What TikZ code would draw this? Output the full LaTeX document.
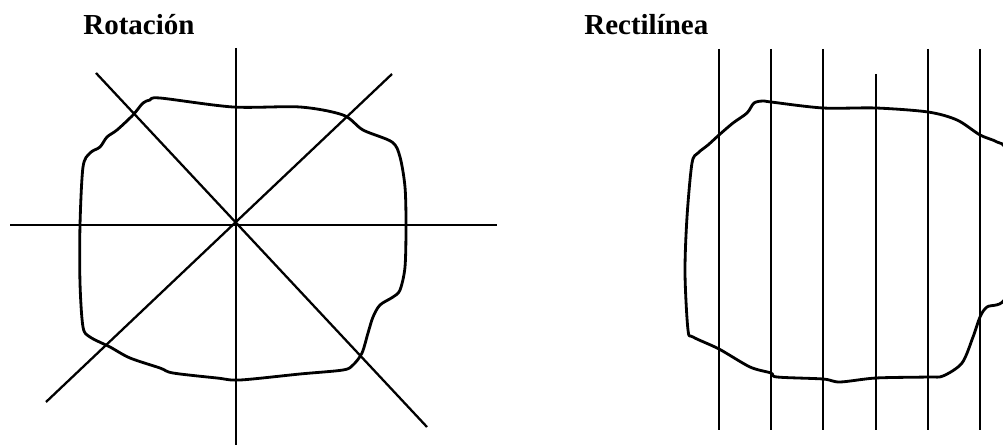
\documentclass[tikz,border=0pt]{standalone}
\usepackage{fontspec}
\setmainfont{Liberation Serif}
\usetikzlibrary{positioning}
\tikzset{
    title/.style={font=\fontsize{16.5}{18}\selectfont\bfseries, anchor=base west, inner sep=0pt},
    ray/.style={line width=1.3pt, line cap=butt},
    outline/.style={line width=1.6pt, line join=round}
}

\begin{document}
\begin{tikzpicture}[x=0.02cm, y=-0.02cm]
\useasboundingbox (0,0) rectangle (1003,445);
\begin{scope}
\clip (0,0) rectangle (1003,445);

% left panel
\node[title] (rot) at (83,35) {Rotación};
\draw[ray] (236,48) -- (236,445);
\draw[ray] (10,225) -- (497,225);
\draw[ray] (96,73) -- (427,427);
\draw[ray] (392,74) -- (46,402);
\draw[outline] plot[smooth cycle, tension=0.5] coordinates {
    (150,100) (160,98) (233,107) (300,107) (343,115) (363,130) (392,142)
    (400,157) (405,187) (406,225) (405,267) (400,290) (393,297) (380,305)
    (373,317) (368,333) (362,353) (353,365) (343,370) (300,374) (240,380)
    (217,378) (173,373) (160,368) (130,358) (110,347) (90,337) (83,327)
    (80,283) (80,225) (83,167) (90,153) (100,147) (107,137) (117,130)
    (133,115) (143,103)};

% right panel
\node[title] (rect) at (584,35) {Rectilínea};
\foreach \x in {719,771,823,928,980}
    \draw[ray] (\x,49) -- (\x,430);
\draw[ray] (876,74) -- (876,430);
\draw[outline] plot[smooth cycle, tension=0.5] coordinates {
    (763,101) (771,102) (823,108) (876,108) (928,112) (957,120) (980,135)
    (997,142) (1006,152) (1012,220) (1006,296) (987,307) (980,317)
    (973,337) (962,363) (943,376) (928,377) (876,378) (840,382) (823,379)
    (777,377) (771,373) (750,367) (719,349) (693,337) (688,330) (685,273)
    (687,217) (692,163) (698,153) (708,145) (719,135) (733,123) (747,113)
    (754,103)};
\end{scope}
\end{tikzpicture}
\end{document}
